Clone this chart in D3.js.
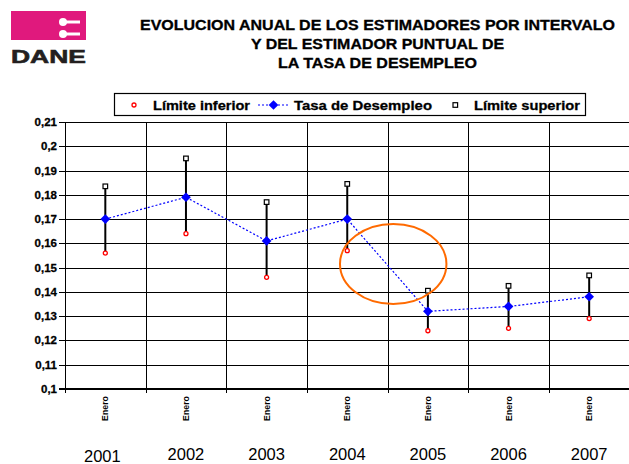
<!DOCTYPE html>
<html>
<head>
<meta charset="utf-8">
<script src="https://cdn.jsdelivr.net/npm/d3@7"></script>
<style>
  body { margin: 0; background: #fff; }
  svg { display: block; font-family: 'Liberation Sans', Arial, sans-serif; }
  .heavy { stroke: #000; stroke-width: 0.3; }
</style>
</head>
<body>
<svg width="629" height="464"></svg>
<script>
const years = ['2001', '2002', '2003', '2004', '2005', '2006', '2007'];
const tasa = [0.170, 0.179, 0.161, 0.170, 0.132, 0.134, 0.138];
const limInf = [0.156, 0.164, 0.146, 0.157, 0.124, 0.125, 0.129];
const limSup = [0.1835, 0.195, 0.177, 0.1845, 0.1405, 0.1425, 0.1468];
const yTicks = [0.1, 0.11, 0.12, 0.13, 0.14, 0.15, 0.16, 0.17, 0.18, 0.19, 0.2, 0.21];
const titleLines = ['EVOLUCION ANUAL DE LOS ESTIMADORES POR INTERVALO', 'Y DEL ESTIMADOR PUNTUAL DE', 'LA TASA DE DESEMPLEO'];
const titleWidths = [475, 253, 199];

const svg = d3.select('svg');
const margin = { top: 122, left: 65, right: 629.5, bottom: 389 };

const x = d3.scaleBand().domain(years).range([margin.left, margin.right]);
const y = d3.scaleLinear().domain([0.1, 0.21]).range([margin.bottom, margin.top]);
const cx = d => x(d) + x.bandwidth() / 2;

const data = years.map((yr, i) => ({ yr, tasa: tasa[i], inf: limInf[i], sup: limSup[i] }));

// logo
const logo = svg.append('g');
logo.append('rect').attr('x', 11).attr('y', 11).attr('width', 75).attr('height', 29).attr('fill', '#E0197D');
[22, 34].forEach(yy => {
  logo.append('line').attr('x1', 63).attr('x2', 80).attr('y1', yy).attr('y2', yy)
    .attr('stroke', '#fff').attr('stroke-width', 3);
  logo.append('circle').attr('cx', 63).attr('cy', yy).attr('r', 4).attr('fill', '#fff');
});
logo.append('text').attr('x', 48.5).attr('y', 63).attr('text-anchor', 'middle')
  .attr('font-size', 19).attr('font-weight', 'bold').attr('fill', '#231F20')
  .attr('stroke', '#231F20').attr('stroke-width', 0.6)
  .attr('textLength', 75).attr('lengthAdjust', 'spacingAndGlyphs').text('DANE');

// title
svg.append('g').selectAll('text')
  .data(titleLines)
  .enter()
  .append('text')
  .attr('class', 'heavy')
  .attr('x', 377.5)
  .attr('y', (d, i) => 30 + i * 19.2)
  .attr('text-anchor', 'middle')
  .attr('font-size', 14)
  .attr('font-weight', 'bold')
  .attr('textLength', (d, i) => titleWidths[i])
  .attr('lengthAdjust', 'spacingAndGlyphs')
  .text(d => d);

// grid
const grid = svg.append('g').attr('shape-rendering', 'crispEdges');
grid.selectAll('.h')
  .data(yTicks)
  .enter()
  .append('line')
  .attr('x1', margin.left - 6)
  .attr('x2', margin.right)
  .attr('y1', d => Math.round(y(d)) + 0.5)
  .attr('y2', d => Math.round(y(d)) + 0.5)
  .attr('stroke', '#000')
  .attr('stroke-width', 1);

grid.selectAll('.v')
  .data(years)
  .enter()
  .append('line')
  .attr('x1', d => Math.round(x(d)) + 0.5)
  .attr('x2', d => Math.round(x(d)) + 0.5)
  .attr('y1', margin.top)
  .attr('y2', margin.bottom + 4)
  .attr('stroke', '#000')
  .attr('stroke-width', d => d === years[0] ? 1.5 : 1);

grid.append('line')
  .attr('x1', margin.left - 6).attr('x2', margin.right)
  .attr('y1', margin.bottom).attr('y2', margin.bottom)
  .attr('stroke', '#000').attr('stroke-width', 2.5);

// y labels
svg.append('g').selectAll('text')
  .data(yTicks)
  .enter()
  .append('text')
  .attr('class', 'heavy')
  .attr('x', 57)
  .attr('y', d => y(d))
  .attr('dy', '0.35em')
  .attr('text-anchor', 'end')
  .attr('font-size', 11.5)
  .attr('font-weight', 'bold')
  .text(d => d3.format('.2~f')(d).replace('.', ','));

// x labels
svg.append('g').selectAll('text')
  .data(years)
  .enter()
  .append('text')
  .attr('transform', d => `translate(${cx(d) + 3},396) rotate(-90)`)
  .attr('text-anchor', 'end')
  .attr('font-size', 8.8)
  .attr('font-weight', 'bold')
  .text('Enero');

svg.append('g').selectAll('text')
  .data(years)
  .enter()
  .append('text')
  .attr('x', (d, i) => cx(d) + (i === 0 ? -3 : 0))
  .attr('y', (d, i) => i === 0 ? 462 : 459.5)
  .attr('text-anchor', 'middle')
  .attr('font-size', 16.5)
  .text(d => d);

// error bars
svg.append('g').selectAll('line')
  .data(data)
  .enter()
  .append('line')
  .attr('x1', d => cx(d.yr))
  .attr('x2', d => cx(d.yr))
  .attr('y1', d => y(d.inf))
  .attr('y2', d => y(d.sup))
  .attr('stroke', '#000')
  .attr('stroke-width', 2);

// tasa line
const line = d3.line().x(d => cx(d.yr)).y(d => y(d.tasa));
svg.append('path')
  .datum(data)
  .attr('d', line)
  .attr('fill', 'none')
  .attr('stroke', '#0000FF')
  .attr('stroke-width', 1.2)
  .attr('stroke-dasharray', '2,2');

const diamond = d3.symbol().type(d3.symbolDiamond2).size(60);
svg.append('g').selectAll('path')
  .data(data)
  .enter()
  .append('path')
  .attr('transform', d => `translate(${cx(d.yr)},${y(d.tasa)})`)
  .attr('d', diamond)
  .attr('fill', '#0000FF');

// lower limit markers
svg.append('g').selectAll('circle')
  .data(data)
  .enter()
  .append('circle')
  .attr('cx', d => cx(d.yr))
  .attr('cy', d => y(d.inf))
  .attr('r', 2)
  .attr('fill', '#fff')
  .attr('stroke', '#FF0000')
  .attr('stroke-width', 1.3);

// upper limit markers
svg.append('g').selectAll('rect')
  .data(data)
  .enter()
  .append('rect')
  .attr('x', d => cx(d.yr) - 2.3)
  .attr('y', d => y(d.sup) - 2.3)
  .attr('width', 4.6)
  .attr('height', 4.6)
  .attr('fill', '#fff')
  .attr('stroke', '#000')
  .attr('stroke-width', 1.2);

// annotation ellipse around the 2004-2005 drop
svg.append('ellipse')
  .attr('cx', x('2005') + x.bandwidth() * 0.07)
  .attr('cy', y(0.1515))
  .attr('rx', x.bandwidth() * 0.66)
  .attr('ry', y(0.1) - y(0.1165))
  .attr('fill', 'none')
  .attr('stroke', '#FF6A00')
  .attr('stroke-width', 2);

// legend
const legend = svg.append('g');
legend.append('rect').attr('x', 114.5).attr('y', 93.5).attr('width', 471).attr('height', 22)
  .attr('fill', '#fff').attr('stroke', '#000').attr('stroke-width', 1.2);
legend.append('circle').attr('cx', 134).attr('cy', 105).attr('r', 2)
  .attr('fill', '#fff').attr('stroke', '#FF0000').attr('stroke-width', 1.3);
legend.append('line').attr('x1', 258).attr('x2', 290).attr('y1', 105).attr('y2', 105)
  .attr('stroke', '#0000FF').attr('stroke-width', 1.2).attr('stroke-dasharray', '2,2');
legend.append('path').attr('transform', 'translate(273.5,105)').attr('d', diamond).attr('fill', '#0000FF');
legend.append('rect').attr('x', 453).attr('y', 102.7).attr('width', 4.6).attr('height', 4.6)
  .attr('fill', '#fff').attr('stroke', '#000').attr('stroke-width', 1.2);
[['Límite inferior', 153, 97], ['Tasa de Desempleo', 294, 138], ['Límite superior', 474, 106]].forEach(([t, xx, w]) => {
  legend.append('text').attr('class', 'heavy').attr('x', xx).attr('y', 110)
    .attr('font-size', 13.5).attr('font-weight', 'bold')
    .attr('textLength', w).attr('lengthAdjust', 'spacingAndGlyphs').text(t);
});
</script>
</body>
</html>
